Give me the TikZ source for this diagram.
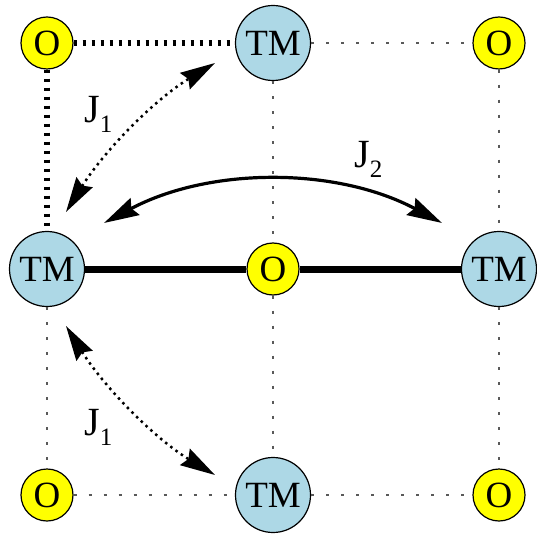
\documentclass[tikz,border=0pt]{standalone}
\usepackage{fontspec}
\setmainfont{Liberation Serif}
\usetikzlibrary{arrows.meta,calc}
\definecolor{tmblue}{RGB}{173,216,230}
\definecolor{oyellow}{RGB}{255,255,0}
\tikzset{
  tm/.style={circle,draw=black,line width=1.2pt,fill=tmblue,minimum size=75pt,inner sep=0pt,font=\fontsize{37}{37}\selectfont},
  ox/.style={circle,draw=black,line width=1.2pt,fill=oyellow,minimum size=52pt,inner sep=0pt,font=\fontsize{37}{37}\selectfont},
  thin grid/.style={draw=black!65,line width=1.1pt,dash pattern=on 3pt off 12pt},
  thick dot/.style={draw=black,line width=6pt,dash pattern=on 3pt off 6pt},
  bond/.style={draw=black,line width=7pt},
  big tip/.tip={Stealth[length=35pt,width=19pt,inset=4pt]},
  jone/.style={line width=2.5pt,dash pattern=on 2.5pt off 4pt,{big tip}-{big tip}},
  jtwo/.style={line width=3.2pt,{big tip}-{big tip}},
  jlabel/.style={anchor=base west,inner sep=0pt,font=\fontsize{40}{40}\selectfont}
}
\newcommand{\jsub}[1]{J\raisebox{-10pt}{\fontsize{25}{25}\selectfont #1}}
\begin{document}
\begin{tikzpicture}[x=1pt,y=-1pt]
\useasboundingbox (0,0) rectangle (537,534);
% nodes
\node[ox] (otl) at (47,43) {O};
\node[tm] (tmt) at (273,43) {TM};
\node[ox] (otr) at (499,43) {O};
\node[tm] (tml) at (47,269) {TM};
\node[ox] (oc) at (273,269) {O};
\node[tm] (tmr) at (499,269) {TM};
\node[ox] (obl) at (47,495) {O};
\node[tm] (tmb) at (273,495) {TM};
\node[ox] (obr) at (499,495) {O};
% thin grid
\draw[thin grid] (tmt) -- (otr);
\draw[thin grid] (otr) -- (tmr);
\draw[thin grid] (tmr) -- (obr);
\draw[thin grid] (tml) -- (obl);
\draw[thin grid] (obl) -- (tmb);
\draw[thin grid] (tmb) -- (obr);
\draw[thin grid] (tmt) -- (oc);
\draw[thin grid] (oc) -- (tmb);
% thick dotted
\draw[thick dot] (otl) -- (tmt);
\draw[thick dot] (otl) -- (tml);
% bonds
\draw[bond] (tml) -- (oc);
\draw[bond] (oc) -- (tmr);
% exchange arrows
\draw[jone] ($(tml)+(19,-57)$) .. controls +(37.6,-60.3) and +(-60.8,36.6) .. ($(tmt)+(-58,20)$);
\draw[jone] ($(tml)+(19,57)$) .. controls +(37.6,60.3) and +(-60.8,-36.6) .. ($(tmb)+(-58,-20)$);
\draw[jtwo] ($(tml)+(57,-46)$) .. controls +(105.7,-56.2) and +(-105.7,-56.2) .. ($(tmr)+(-57,-46)$);
% labels
\node[jlabel] (j1a) at (84,123) {\jsub{1}};
\node[jlabel] (j2) at (354,168) {\jsub{2}};
\node[jlabel] (j1b) at (84,435) {\jsub{1}};
\end{tikzpicture}
\end{document}
